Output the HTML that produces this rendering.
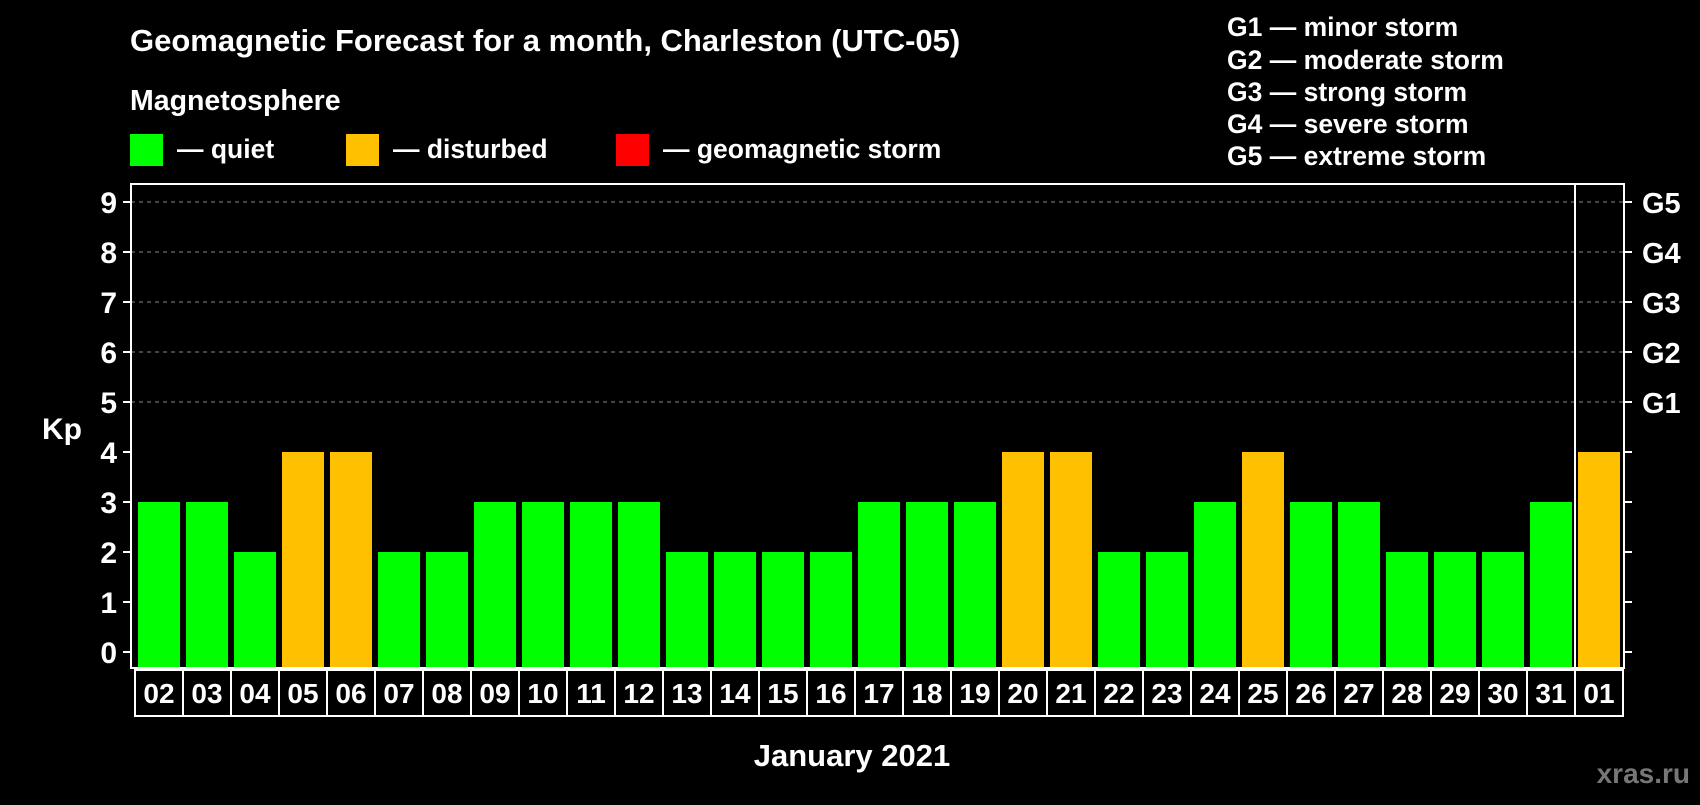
<!DOCTYPE html>
<html><head><meta charset="utf-8"><style>
body{margin:0;background:#000;width:1700px;height:800px;overflow:hidden;font-family:"Liberation Sans",sans-serif;font-weight:bold;color:#fff}
svg text{font-family:"Liberation Sans",sans-serif;font-weight:bold;fill:#fff}
</style></head><body>
<svg id="chart" width="1700" height="800">
<text x="130" y="51" font-size="31">Geomagnetic Forecast for a month, Charleston (UTC-05)</text>
<text x="130" y="110" font-size="28.5">Magnetosphere</text>
<rect x="130" y="134" width="33" height="32" fill="#00ff00"/>
<text x="177" y="158" font-size="26.5">— quiet</text>
<rect x="346" y="134" width="33" height="32" fill="#ffc000"/>
<text x="393" y="158" font-size="26.5">— disturbed</text>
<rect x="616" y="134" width="33" height="32" fill="#ff0000"/>
<text x="663" y="158" font-size="26.5">— geomagnetic storm</text>
<g font-size="26.5">
<text x="1227" y="36">G1 — minor storm</text>
<text x="1227" y="69">G2 — moderate storm</text>
<text x="1227" y="101">G3 — strong storm</text>
<text x="1227" y="133">G4 — severe storm</text>
<text x="1227" y="165">G5 — extreme storm</text>
</g>
<text x="42" y="439" font-size="30">Kp</text>
<text x="852" y="766" font-size="31" text-anchor="middle">January 2021</text>
<text x="1690" y="783" font-size="28" text-anchor="end" style="fill:#777">xras.ru</text>
<g id="grid"></g><g id="bars"></g><g id="axes"></g>
</svg>
<script>
const days=["02","03","04","05","06","07","08","09","10","11","12","13","14","15","16","17","18","19","20","21","22","23","24","25","26","27","28","29","30","31","01"];
const kp=[3,3,2,4,4,2,2,3,3,3,3,2,2,2,2,3,3,3,4,4,2,2,3,4,3,3,2,2,2,3,4];
const yTicks=[0,1,2,3,4,5,6,7,8,9];
const gLabels=["G1","G2","G3","G4","G5"];
const NS="http://www.w3.org/2000/svg";
const L=131,R=1624,T=184,B=668,x0=138,pitch=48,bw=42;
const y=v=>652-v*50;
const xb=i=>x0+i*pitch;
function mk(tag,attrs,parent){const e=document.createElementNS(NS,tag);for(const k in attrs)e.setAttribute(k,attrs[k]);parent.appendChild(e);return e;}
const grid=document.getElementById('grid'),bars=document.getElementById('bars'),axes=document.getElementById('axes');
yTicks.forEach(v=>{
 if(v>=5){const g=mk('line',{x1:L,x2:R,y1:y(v),y2:y(v),stroke:'#888','stroke-dasharray':'4,4','stroke-width':1},grid);
 
 }
 const t=mk('line',{x1:L-8,x2:L,y1:y(v),y2:y(v),stroke:'#fff','stroke-width':2},axes);
 
 
 const t2=mk('line',{x1:R,x2:R+8,y1:y(v),y2:y(v),stroke:'#fff','stroke-width':2},axes);
 
 
 const lb=mk('text',{x:117,y:y(v)+11,'font-size':30,'text-anchor':'end'},axes);lb.textContent=v;
 
 
});
gLabels.forEach((g,i)=>{const lb=mk('text',{x:1642,y:y(5+i)+11,'font-size':29},axes);lb.textContent=g;
 
 });
kp.forEach((v,i)=>{
 const r=mk('rect',{x:xb(i),y:y(v),width:bw,height:B-1-y(v),fill:v>=5?'#ff0000':(v>=4?'#ffc000':'#00ff00')},bars);
 
 
 const c=mk('rect',{x:xb(i)-3,y:670,width:pitch,height:46,fill:'none',stroke:'#fff','stroke-width':2},axes);
 
 
 const lb=mk('text',{x:xb(i)+bw/2,y:703,'font-size':28,'text-anchor':'middle'},axes);lb.textContent=days[i];
 
 
});
const f=mk('rect',{x:L,y:T,width:R-L,height:B-T,fill:'none',stroke:'#fff','stroke-width':2},axes);


const d=mk('line',{x1:xb(days.length-1)-3,x2:xb(days.length-1)-3,y1:T,y2:B,stroke:'#fff','stroke-width':2},axes);


</script>
</body></html>
